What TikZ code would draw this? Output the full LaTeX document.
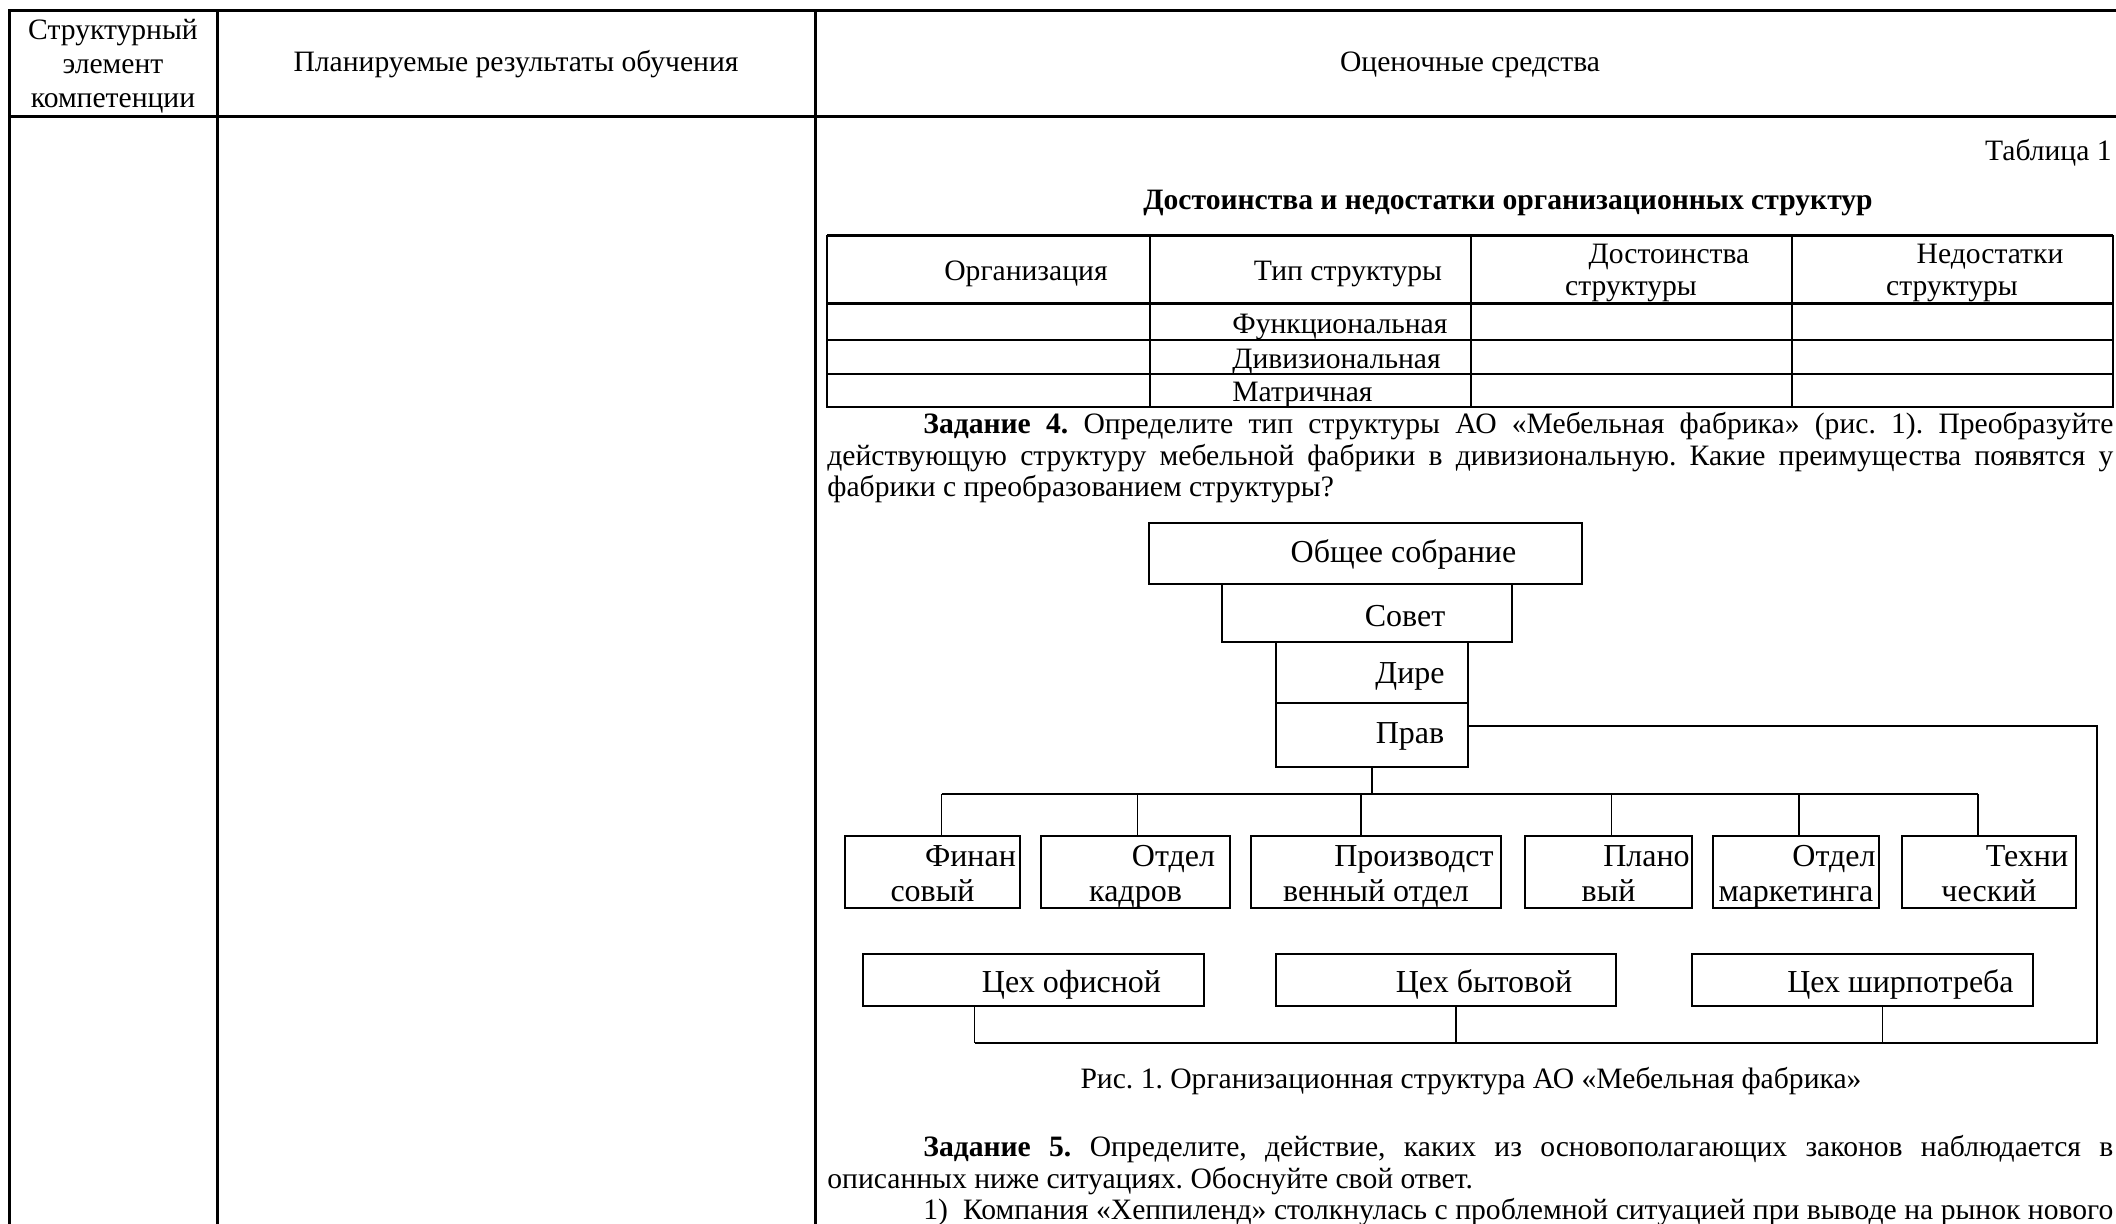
\documentclass[tikz,border=0pt]{standalone}
\usepackage{fontspec}
\setmainfont{Liberation Serif}
\usepackage{tikz}
\frenchspacing

\newcommand{\firstind}{\hspace*{38pt}}
\newcommand{\parind}{\noindent\hspace*{48pt}}
\newcommand{\pairtext}[2]{\rule{0pt}{15.2pt}\firstind #1\\#2\rule[-3.3pt]{0pt}{3.3pt}}
\newcommand{\bodyfont}{\fontsize{14.8}{15.8}\selectfont}
\newcommand{\chartfont}{\fontsize{16}{17.5}\selectfont}

\tikzset{
  unit/.style={draw, line width=0.7pt, inner sep=0pt, align=center, font=\chartfont},
  boxsize/.style 2 args={minimum width=#1*0.5pt, minimum height=#2*0.5pt},
  txt/.style={inner sep=0pt, font=\bodyfont},
  tabrule/.style={line width=1.5pt},
  cellrule/.style={line width=0.8pt},
  link/.style={line width=0.7pt},
}

\begin{document}
\begin{tikzpicture}[x=0.5pt,y=-0.5pt]
        \useasboundingbox (0,0) rectangle (2116,1224);
        \clip (0,0) rectangle (2116,1224);

        \draw[tabrule] (9.5,1240) -- (9.5,10.5) -- (2140,10.5);
        \draw[tabrule] (9.5,117) -- (2140,117);
        \foreach \x in {217,815}
            \draw[tabrule] (\x,10.5) -- (\x,1240);

        \node[txt, align=center, font=\fontsize{14.8}{16.9}\selectfont] (elem) at (113,66) {Структурный\\элемент\\компетенции};
        \node[txt, anchor=base] (plan) at (516,72) {Планируемые результаты обучения};
        \node[txt, anchor=base] (tools) at (1470,72) {Оценочные средства};

        \node[txt, anchor=base east] (tabnum) at (2112,161) {Таблица 1};
        \node[txt, anchor=base, font=\bodyfont\bfseries] (tabtitle) at (1470,210) {\firstind Достоинства и недостатки организационных структур};

        \draw[cellrule] (827,236) rectangle (2113,407);
        \draw[tabrule] (827,236) -- (2113,236);
        \draw[tabrule] (827,304) -- (2113,304);
        \foreach \y in {340,374}
            \draw[cellrule] (827,\y) -- (2113,\y);
        \foreach \x in {1150,1471,1792}
            \draw[cellrule] (\x,236) -- (\x,407);

        \node[txt, anchor=base] (org) at (988,281) {\firstind Организация};
        \node[txt, anchor=base] (type) at (1310,281) {\firstind Тип структуры};
        \node[txt, align=center] (pros) at (1631,273) {\firstind Достоинства\\структуры};
        \node[txt, align=center] (cons) at (1952,273) {\firstind Недостатки\\структуры};
        \node[txt, anchor=base west] (func) at (1232,334) {Функциональная};
        \node[txt, anchor=base west] (div) at (1232,369) {Дивизиональная};
        \node[txt, anchor=base west] (matr) at (1232,402) {Матричная};

        \node[txt, anchor=north west, text width=643pt, align=justify] (task4) at (827,412)
            {\parind\textbf{Задание 4.} Определите тип структуры АО «Мебельная фабрика» (рис.~1). Преобразуйте\linebreak
             действующую структуру мебельной фабрики в дивизиональную. Какие преимущества появятся у\linebreak
             фабрики с преобразованием структуры?};

        \node[unit, boxsize={433}{61}, text height=12pt] (meet) at (1365.5,553.5) {\firstind Общее собрание};
        \node[unit, boxsize={290}{58}, text height=14pt] (board) at (1367,613) {\firstind Совет};
        \node[unit, boxsize={192}{61}, text height=14pt] (dir) at (1372,672.5) {\firstind Дире};
        \node[unit, boxsize={192}{64}, text height=12pt] (prav) at (1372,735) {\firstind Прав};

        \node[unit, boxsize={175}{72}] (fin) at (932.5,872) {\pairtext{Финан}{совый}};
        \node[unit, boxsize={189}{72}] (kadr) at (1135.5,872) {\pairtext{Отдел}{кадров}};
        \node[unit, boxsize={250}{72}] (prod) at (1376,872) {\pairtext{Производст}{венный отдел}};
        \node[unit, boxsize={167}{72}] (plan) at (1608.5,872) {\pairtext{Плано}{вый}};
        \node[unit, boxsize={166}{72}] (mark) at (1796,872) {\pairtext{Отдел}{маркетинга}};
        \node[unit, boxsize={174}{72}] (tech) at (1989,872) {\pairtext{Техни}{ческий}};

        \node[unit, boxsize={341}{52}, text height=16pt] (ofis) at (1033.5,980) {\firstind Цех офисной};
        \node[unit, boxsize={340}{52}, text height=16pt] (byt) at (1446,980) {\firstind Цех бытовой};
        \node[unit, boxsize={341}{52}, text height=16pt] (shir) at (1862.5,980) {\firstind Цех ширпотреба};

        \coordinate (bus) at (0,794);
        \coordinate (rb) at (2097,1043);
        \draw[link] (prav.south) -- (prav.south |- bus);
        \draw[link] ([xshift=4.5pt]fin.north |- bus) -- ([xshift=-5.5pt]tech.north |- bus);
        \foreach \n/\dx in {fin/4.5,kadr/1,prod/-7.5,plan/1.5,mark/1.5,tech/-5.5}
            \draw[link] ([xshift=\dx pt]\n.north) -- ([xshift=\dx pt]\n.north |- bus);
        \draw[link] ([yshift=4.5pt]prav.east) -| (rb) -- ([xshift=-29.5pt]ofis.south |- rb);
        \foreach \n/\dx in {ofis/-29.5,byt/5,shir/10}
            \draw[link] ([xshift=\dx pt]\n.south) -- ([xshift=\dx pt]\n.south |- rb);

        \node[txt, anchor=base] (caption) at (1471,1088) {Рис. 1. Организационная структура АО «Мебельная фабрика»};

        \node[txt, anchor=north west, text width=643pt, align=justify] (task5) at (827,1135)
            {\parind\textbf{Задание 5.} Определите, действие, каких из основополагающих законов наблюдается в\linebreak
             описанных ниже ситуациях. Обоснуйте свой ответ.};
        \node[txt, anchor=north west, text width=643pt, align=justify] (item1) at (827,1198)
            {\parind 1)~~Компания «Хеппиленд» столкнулась с проблемной ситуацией при выводе на рынок нового\parfillskip=0pt\par};
\end{tikzpicture}
\end{document}
